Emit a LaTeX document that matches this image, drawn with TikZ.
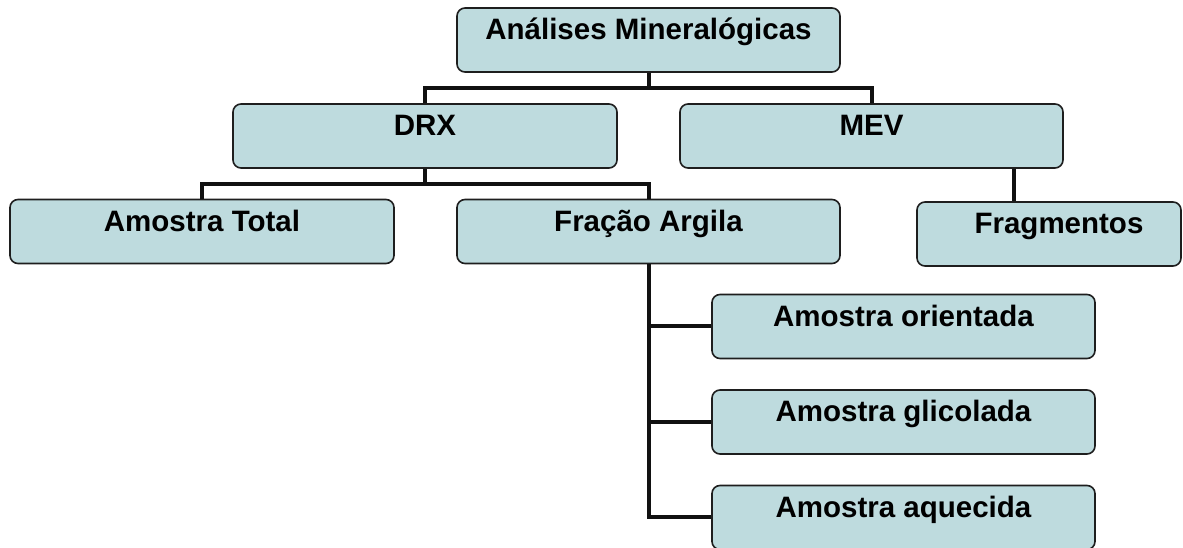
\documentclass[tikz,border=0pt]{standalone}
\usepackage{fontspec}
\setmainfont{Liberation Sans}
\usetikzlibrary{calc}
\definecolor{boxfill}{RGB}{190,219,222}
\definecolor{boxline}{RGB}{30,30,30}
\definecolor{linkcol}{RGB}{17,17,17}
\tikzset{
  card/.style={draw=boxline, line width=1.6pt, fill=boxfill, rounded corners=8pt,
    inner xsep=0pt, inner ysep=0pt, text height=32pt, text depth=32pt,
    minimum width=#1, font=\fontsize{29.5}{30}\selectfont\bfseries},
  card/.default=383pt,
  link/.style={draw=linkcol, line width=4pt}
}
\begin{document}
\begin{tikzpicture}[x=1pt,y=1pt]
\useasboundingbox[fill=white] (0,0) rectangle (1183,548);

% levels of the hierarchy
\node[card] (top) at (648.5,508) {Análises Mineralógicas};
\node[card=384pt] (drx) at (425,412) {DRX};
\node[card] (mev) at (871.5,412) {MEV};
\node[card=384pt] (at) at (202,316.5) {Amostra Total};
\node[card] (fa) at (648.5,316.5) {Fração Argila};
\node[card=264pt] (frag) at (1049,314) {\hspace*{20pt}Fragmentos};
\node[card] (ao) at (903.5,221.5) {Amostra orientada};
\node[card] (ag) at (903.5,126) {Amostra glicolada};
\node[card] (aq) at (903.5,30.5) {Amostra aquecida};

% connectors
\draw[link] (top.south) -- ($(top.south)!0.5!(top.south |- drx.north)$) coordinate (b1);
\draw[link] (drx.north) |- (b1) -| (mev.north);

\draw[link] (drx.south) -- ($(drx.south)!0.5!(drx.south |- at.north)$) coordinate (b2);
\draw[link] (at.north) |- (b2) -| (fa.north);

\draw[link] ($(mev.south east)+(-50,0)$) coordinate (m1) -- (m1 |- frag.north);

\draw[link] (fa.south) -- (fa.south |- aq.west) -- (aq.west);
\draw[link] (fa.south |- ao.west) -- (ao.west);
\draw[link] (fa.south |- ag.west) -- (ag.west);
\end{tikzpicture}
\end{document}
